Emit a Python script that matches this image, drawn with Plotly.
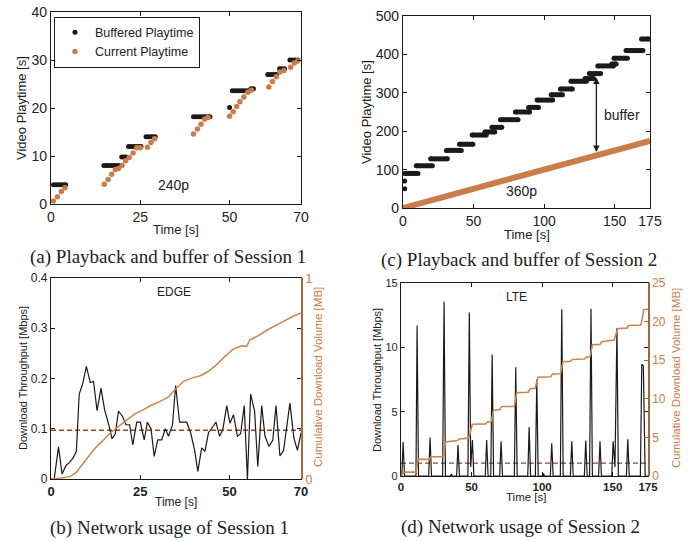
import plotly.graph_objects as go

W, H = 698, 541

# ---------------- Panel (a): Session 1 playback ----------------
a_buf_t = [0.7, 1.4, 2.1, 2.8, 3.5, 4.1,
           14.8, 15.5, 16.2, 16.9, 17.6, 18.3, 19.0,
           19.8, 20.4, 21.0,
           21.7, 22.4, 23.1, 23.8, 24.5, 25.2,
           26.6, 27.3, 28.0, 28.6, 29.2,
           39.9, 40.6, 41.3, 42.0, 42.7, 43.4, 44.1, 44.5,
           50.0,
           50.8, 51.5, 52.2, 52.9, 53.6, 54.3, 55.0, 55.7,
           56.0, 56.7,
           60.7, 61.4, 62.1, 62.8, 63.2,
           64.0, 64.7, 65.4,
           66.9, 67.6, 68.3, 69.1]
a_buf_v = [4, 4, 4, 4, 4, 4,
           8, 8, 8, 8, 8, 8, 8,
           9.8, 9.8, 9.8,
           12, 12, 12, 12, 12, 12,
           14, 14, 14, 14, 14,
           18.2, 18.2, 18.2, 18.2, 18.2, 18.2, 18.2, 18.2,
           20.1,
           23.6, 23.6, 23.6, 23.6, 23.6, 23.6, 23.6, 23.6,
           24, 24,
           27, 27, 27, 27, 27,
           28.2, 28.2, 28.2,
           30, 30, 30, 30]
a_cur_t = [0.65, 1.8, 2.9, 3.9,
           14.9, 16.0, 17.0, 18.0, 18.9, 19.9, 20.9, 21.9, 23.0, 24.0, 25.0,
           27.0, 28.0, 29.0,
           39.9, 41.0, 42.0, 43.0, 44.0,
           50.0, 51.0, 52.0, 52.9, 54.0, 55.1, 56.1,
           61.0, 62.0, 63.1, 64.1, 65.2,
           67.1, 68.1, 69.1]
a_cur_v = [0.6, 1.5, 2.6, 3.4,
           4.1, 5.1, 6.2, 7.2, 7.4, 8.0, 9.0, 9.7, 10.6, 11.7, 11.7,
           11.8, 12.8, 13.6,
           14.6, 15.6, 16.6, 17.7, 18.0,
           18.3, 19.2, 20.3, 21.3, 22.3, 23.3, 23.7,
           24.4, 25.5, 26.5, 27.5, 27.8,
           28.5, 29.4, 29.8]

# ---------------- Panel (c): Session 2 playback ----------------
c_dot_t = [1.2, 1.2]
c_dot_v = [50, 70]
c_seg_start = [1.2, 9.4, 19.6, 30.7, 40.0, 49.0, 58.0, 63.0, 69.0, 79.6, 89.0, 95.0,
               105.0, 111.5, 119.0, 129.0, 132.0, 138.0, 148.0, 149.5, 158.0, 169.0]
c_seg_end = [10.6, 20.8, 31.4, 41.3, 49.5, 59.0, 65.0, 70.0, 81.5, 89.7, 96.0, 106.0,
             113.0, 120.0, 130.0, 135.0, 140.0, 149.0, 151.0, 159.0, 170.0, 174.0]
c_seg_level = [90, 110, 128, 150, 166, 190, 198, 210, 230, 250, 262, 281,
               295, 310, 330, 337, 350, 370, 375, 390, 410, 440]
c_cur_t = [0, 175]
c_cur_v = [0, 175]

# ---------------- Panel (b): Session 1 network (EDGE) ----------------
b_t = [0, 0.9, 2.1, 3.1, 4.2, 5.2, 6.2, 7.1, 7.9, 8.9, 9.9, 11.0, 11.9, 12.9, 14.0,
       15.0, 16.1, 17.1, 18.0, 18.9, 20.0, 21.0, 22.0, 22.9, 24.0, 25.0, 26.1, 27.0,
       28.0, 28.9, 29.9, 31.0, 32.0, 32.9, 34.0, 34.9, 36.0, 37.1, 38.0, 39.1, 40.2,
       41.1, 42.2, 43.1, 44.1, 45.2, 46.2, 47.2, 48.1, 49.2, 50.1, 51.1, 52.2, 53.1,
       54.1, 55.0, 55.9, 57.0, 57.9, 59.0, 59.9, 61.0, 62.1, 63.0, 64.1, 65.1, 66.2,
       66.9, 68.0, 69.0, 70.0]
b_thr = [0, 0, 0.064, 0.01, 0.027, 0.033, 0.042, 0.055, 0.169, 0.19, 0.224, 0.192,
         0.194, 0.136, 0.181, 0.138, 0.11, 0.08, 0.09, 0.135, 0.125, 0.108, 0.108,
         0.068, 0.113, 0.113, 0.078, 0.113, 0.1, 0.045, 0.078, 0.078, 0.1, 0.085,
         0.107, 0.186, 0.113, 0.113, 0.113, 0.092, 0.058, 0.015, 0.062, 0.055, 0.092,
         0.103, 0.113, 0.085, 0.098, 0.146, 0.111, 0.128, 0.085, 0.09, 0.146, 0.0,
         0.169, 0.135, 0.025, 0.146, 0.086, 0.065, 0.077, 0.146, 0.046, 0.056, 0.119,
         0.151, 0.082, 0.057, 0.092]
b_cum_t = [0, 3.1, 5.4, 7.1, 8.7, 10.5, 12.4, 14.3, 16.6, 18.9, 21.2, 23.6, 25.9,
           28.2, 30.6, 32.9, 34.9, 37.1, 39.4, 41.8, 44.1, 46.4, 48.7, 51.1, 53.4,
           54.8, 55.7, 58.1, 60.4, 62.7, 65.1, 67.4, 70.0]
b_cum = [0, 0.005, 0.013, 0.033, 0.071, 0.113, 0.154, 0.187, 0.229, 0.262, 0.292,
         0.325, 0.345, 0.368, 0.386, 0.408, 0.448, 0.486, 0.502, 0.514, 0.536, 0.569,
         0.61, 0.647, 0.663, 0.66, 0.693, 0.713, 0.74, 0.76, 0.784, 0.806, 0.826]
b_avg = 0.097

# ---------------- Panel (d): Session 2 network (LTE) ----------------
d_t = [0, 0.6, 1.5, 2.5, 10.6, 11.4, 12.4, 19.6, 20.6, 21.6, 29.5, 30.5, 31.5,
       35.0, 35.7, 36.4, 39.4, 40.4, 41.4, 47.4, 48.4, 49.4, 50.6, 51.6,
       59.7, 60.7, 61.7, 63.6, 64.6, 65.6, 69.9, 70.9, 71.9, 80.3, 81.3, 82.3,
       89.8, 90.8, 91.8, 95.2, 96.2, 97.2, 100.5, 101.0, 101.5, 105.8, 106.8, 107.8,
       112.9, 113.9, 114.9, 120.0, 121.0, 122.0, 129.9, 130.9, 131.9,
       133.6, 134.6, 135.6, 140.0, 141.0, 142.0, 149.3, 150.3, 151.6, 153.0, 154.0,
       159.7, 160.7, 161.7, 169.6, 170.6, 171.7, 173.0, 175.0]
d_thr = [0, 0, 2.65, 0, 0, 11.7, 0, 0, 3.0, 0, 0, 13.55, 0,
         0, 0.15, 0, 0, 2.4, 0, 0, 12.7, 0.7, 2.8, 0,
         0, 2.8, 0, 0, 9.45, 0, 0, 2.7, 0, 0, 8.45, 0,
         0, 3.8, 0, 0, 7.5, 0, 0, 0.2, 0, 0, 2.55, 0,
         0, 12.95, 0, 0, 2.7, 0, 0, 2.75, 0,
         0, 13.0, 0, 0, 2.7, 0, 0, 2.7, 0.7, 11.5, 0,
         0, 2.85, 0, 0, 8.7, 8.55, 0, 0]
d_cum_t = [0, 1, 2, 10.6, 12.2, 20, 21.2, 30, 31.5, 40, 41.2, 48, 50.5, 60, 61.2,
           64, 65.6, 70, 71.2, 80.3, 82, 90, 91.5, 95, 97, 106, 107.4, 113, 114.8,
           120, 121.3, 130, 131.3, 134, 135.6, 141, 142.2, 151, 153.5, 160, 161.2,
           170, 172, 175]
d_cum = [0, 0.3, 0.5, 0.5, 2.15, 2.15, 2.5, 2.5, 4.4, 4.6, 4.8, 4.9, 6.7, 6.75, 7.0,
         7.05, 8.5, 8.6, 9.0, 9.0, 10.8, 10.85, 11.3, 11.35, 12.8, 12.85, 13.2, 13.25,
         14.8, 14.85, 15.1, 15.15, 15.4, 15.45, 17.0, 17.05, 17.4, 17.6, 19.1, 19.15,
         19.5, 19.55, 21.55, 21.6]
d_avg = 1.0

captions = ["(a) Playback and buffer of Session 1", "(c) Playback and buffer of Session 2",
            "(b) Network usage of Session 1", "(d) Network usage of Session 2"]

# ---------------- styling ----------------
BLACK = "#1a1a1a"
ORANGE = "#c97d4b"
ORANGE_LINE = "#c98655"
BROWN = "#a0683f"
DASH = "#8b4a2b"
TXT = "#222222"
SANS = "Liberation Sans, Arial, sans-serif"
SERIF = "Liberation Serif, Times New Roman, serif"


def px(x):
    return x / W


def py(y):
    return 1 - y / H


fig = go.Figure()

# (a)
fig.add_trace(go.Scatter(x=a_buf_t, y=a_buf_v, mode="markers", name="Buffered Playtime",
                         marker=dict(color=BLACK, size=5), xaxis="x", yaxis="y"))
fig.add_trace(go.Scatter(x=a_cur_t, y=a_cur_v, mode="markers", name="Current Playtime",
                         marker=dict(color=ORANGE, size=5.5), xaxis="x", yaxis="y"))

# (c)
fig.add_trace(go.Scatter(x=c_cur_t, y=c_cur_v, mode="lines", showlegend=False,
                         line=dict(color=ORANGE, width=6), xaxis="x2", yaxis="y2"))
seg_x, seg_y = [], []
for s, e, lv in zip(c_seg_start, c_seg_end, c_seg_level):
    seg_x += [s, e, None]
    seg_y += [lv, lv, None]
fig.add_trace(go.Scatter(x=seg_x, y=seg_y, mode="lines+markers", showlegend=False,
                         line=dict(color=BLACK, width=5), marker=dict(color=BLACK, size=5),
                         xaxis="x2", yaxis="y2"))
fig.add_trace(go.Scatter(x=c_dot_t, y=c_dot_v, mode="markers", showlegend=False,
                         marker=dict(color=BLACK, size=5), xaxis="x2", yaxis="y2"))

# (b)
fig.add_trace(go.Scatter(x=[0, 70], y=[b_avg, b_avg], mode="lines", showlegend=False,
                         line=dict(color=DASH, width=1.3, dash="5px,3px"), xaxis="x3", yaxis="y3"))
fig.add_trace(go.Scatter(x=b_t, y=b_thr, mode="lines", showlegend=False,
                         line=dict(color=BLACK, width=1.2), xaxis="x3", yaxis="y3"))
fig.add_trace(go.Scatter(x=b_cum_t, y=b_cum, mode="lines", showlegend=False,
                         line=dict(color=ORANGE_LINE, width=1.5), xaxis="x3", yaxis="y4"))

# (d)
fig.add_trace(go.Scatter(x=[0, 175], y=[d_avg, d_avg], mode="lines", showlegend=False,
                         line=dict(color=DASH, width=1.3, dash="5px,3px"), xaxis="x4", yaxis="y5"))
fig.add_trace(go.Scatter(x=d_t, y=d_thr, mode="lines", showlegend=False,
                         line=dict(color=BLACK, width=1.2), xaxis="x4", yaxis="y5"))
fig.add_trace(go.Scatter(x=d_cum_t, y=d_cum, mode="lines", showlegend=False,
                         line=dict(color=ORANGE_LINE, width=1.6), xaxis="x4", yaxis="y6"))


def xax(domain, rng, tickvals, anchor, size, bold=False):
    return dict(domain=domain, range=rng, tickvals=tickvals,
                ticktext=[("<b>%g</b>" % v) if bold else "%g" % v for v in tickvals],
                anchor=anchor, showline=True, linecolor=BLACK, linewidth=1.2, mirror="ticks",
                ticks="inside", ticklen=4, tickcolor=BLACK, showgrid=False, zeroline=False,
                tickfont=dict(family=SANS, size=size, color=TXT), fixedrange=True,
                automargin=False, ticklabeloverflow="allow")


def yax(domain, rng, tickvals, anchor, size, mirror="ticks"):
    return dict(domain=domain, range=rng, tickvals=tickvals, anchor=anchor, showline=True,
                linecolor=BLACK, linewidth=1.2, mirror=mirror, ticks="inside", ticklen=4,
                tickcolor=BLACK, showgrid=False, zeroline=False,
                tickfont=dict(family=SANS, size=size, color=TXT), fixedrange=True,
                automargin=False, ticklabeloverflow="allow")


dom_a_x = [px(51), px(301)]
dom_a_y = [py(204), py(12)]
dom_c_x = [px(403), px(650)]
dom_c_y = [py(208), py(16)]
dom_b_x = [px(51), px(301)]
dom_b_y = [py(479), py(278)]
dom_d_x = [px(401), px(648)]
dom_d_y = [py(476), py(283)]

annotations = []


def ann(text, x, y, size, color=TXT, angle=0, family=SANS):
    annotations.append(dict(text=text, x=px(x), y=py(y), xref="paper", yref="paper",
                            showarrow=False, textangle=angle, xanchor="center", yanchor="middle",
                            font=dict(family=family, size=size, color=color)))


# axis titles
ann("Video Playtime [s]", 22, 108, 13, angle=-90)
ann("Time [s]", 176, 229, 13)
ann("Video Playtime [s]", 367, 112, 13, angle=-90)
ann("Time [s]", 527, 235, 13)
ann("Download Throughput [Mbps]", 23, 378, 11, angle=-90)
ann("Cumulative Download Volume [MB]", 318, 377, 11.5, color=ORANGE, angle=-90)
ann("Time [s]", 176, 502, 12)
ann("Download Throughput [Mbps]", 377, 380, 11, angle=-90)
ann("Cumulative Download Volume [MB]", 676, 378, 11.5, color=ORANGE, angle=-90)
ann("Time [s]", 526, 497, 11.5)

# captions
ann(captions[0], 168, 257, 19, family=SERIF)
ann(captions[1], 519, 260, 19, family=SERIF)
ann(captions[2], 169, 528, 19, family=SERIF)
ann(captions[3], 520, 527, 19, family=SERIF)

# in-plot labels
annotations.append(dict(text="240p", x=34.3, y=4, xref="x", yref="y", showarrow=False,
                        font=dict(family=SANS, size=14, color=TXT)))
annotations.append(dict(text="360p", x=84, y=44, xref="x2", yref="y2", showarrow=False,
                        font=dict(family=SANS, size=14, color=TXT)))
annotations.append(dict(text="buffer", x=155, y=242, xref="x2", yref="y2", showarrow=False,
                        font=dict(family=SANS, size=14, color=TXT)))
annotations.append(dict(text="", x=137, y=146, ax=137, ay=344, xref="x2", yref="y2",
                        axref="x2", ayref="y2", showarrow=True, arrowhead=2, arrowside="end+start",
                        arrowsize=1, arrowwidth=1.3, arrowcolor=BLACK))
annotations.append(dict(text="EDGE", x=34.3, y=0.372, xref="x3", yref="y3", showarrow=False,
                        font=dict(family=SANS, size=12, color=TXT)))
annotations.append(dict(text="LTE", x=82, y=13.9, xref="x4", yref="y5", showarrow=False,
                        font=dict(family=SANS, size=12, color=TXT)))

layout = dict(
    width=W, height=H, margin=dict(l=0, r=0, t=0, b=0, pad=0, autoexpand=False),
    paper_bgcolor="white", plot_bgcolor="white",
    showlegend=True,
    legend=dict(x=px(54), y=py(16.5), xanchor="left", yanchor="top", bgcolor="white",
                bordercolor=BLACK, borderwidth=1, font=dict(family=SANS, size=12.5, color=TXT),
                itemwidth=30, tracegroupgap=0),
    xaxis=xax(dom_a_x, [0, 70], [0, 25, 50, 70], "y", 14),
    yaxis=yax(dom_a_y, [0, 40], [0, 10, 20, 30, 40], "x", 14),
    xaxis2=xax(dom_c_x, [0, 175], [0, 50, 100, 150, 175], "y2", 14),
    yaxis2=yax(dom_c_y, [0, 500], [0, 100, 200, 300, 400, 500], "x2", 14),
    xaxis3=xax(dom_b_x, [0, 70], [0, 25, 50, 70], "y3", 13, bold=True),
    yaxis3=yax(dom_b_y, [0, 0.4], [0, 0.1, 0.2, 0.3, 0.4], "x3", 12),
    xaxis4=xax(dom_d_x, [0, 175], [0, 50, 100, 150, 175], "y5", 11.5, bold=True),
    yaxis5=yax(dom_d_y, [0, 15], [0, 5, 10, 15], "x4", 11),
    annotations=annotations,
)
layout["yaxis4"] = dict(domain=dom_b_y, range=[0, 1], tickvals=[0, 1], overlaying="y3",
                        anchor="x3", side="right", showline=True, linecolor=BROWN, linewidth=1.5,
                        ticks="inside", ticklen=4, tickcolor=BROWN, showgrid=False,
                        zeroline=False, tickfont=dict(family=SANS, size=13, color=ORANGE),
                        fixedrange=True, automargin=False, ticklabeloverflow="allow")
layout["yaxis6"] = dict(domain=dom_d_y, range=[0, 25], tickvals=[0, 5, 10, 15, 20, 25],
                        overlaying="y5", anchor="x4", side="right", showline=True,
                        linecolor=BROWN, linewidth=1.5, ticks="inside", ticklen=4,
                        tickcolor=BROWN, showgrid=False, zeroline=False,
                        tickfont=dict(family=SANS, size=12, color=ORANGE), fixedrange=True,
                        automargin=False, ticklabeloverflow="allow")

fig.update_layout(**layout)
fig.write_html("out.html", config={"displayModeBar": False},
               post_script="document.body.style.margin='0';"
                           "document.body.style.overflow='hidden';")
